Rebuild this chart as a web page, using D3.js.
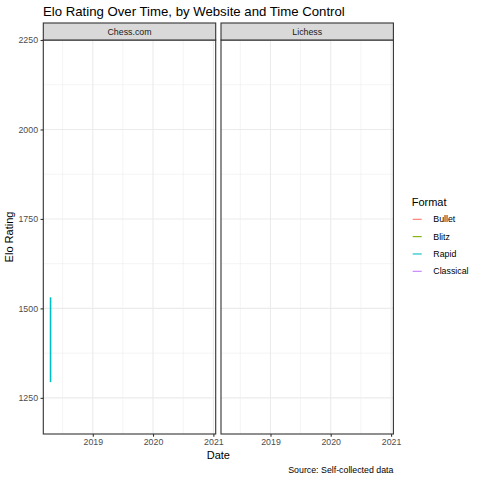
<!DOCTYPE html>
<html>
<head>
<meta charset="utf-8">
<script src="https://cdn.jsdelivr.net/npm/d3@7"></script>
<style>
  body { margin: 0; background: #fff; }
  svg { font-family: "Liberation Sans", Arial, sans-serif; }
</style>
</head>
<body>
<svg id="chart" width="480" height="480"></svg>
<script>
// chart data
const sites = ["Chess.com", "Lichess"];
const formats = ["Bullet", "Blitz", "Rapid", "Classical"];
const formatColors = ["#F8766D", "#7CAE00", "#00BFC4", "#C77CFF"];

// only Chess.com rapid has games in this frame
const chesscomRapidDates = ["2018-04-20", "2018-04-20"];
const chesscomRapidRatings = [1294, 1531];

const dateDomain = ["2018-03-07", "2021-01-15"];
const ratingDomain = [1149, 2250];
const yearTicks = ["2019-01-01", "2020-01-01", "2021-01-01"];
const yearMinorTicks = ["2018-07-02", "2019-07-02", "2020-07-02"];
const ratingTicks = [1250, 1500, 1750, 2000, 2250];
const ratingMinorTicks = [1375, 1625, 1875, 2125];

const title = "Elo Rating Over Time, by Website and Time Control";
const caption = "Source: Self-collected data";

// rows as the plot expects them
const parseDate = d3.utcParse("%Y-%m-%d");
var rows = chesscomRapidDates.map((d, i) => ({
    site: "Chess.com",
    format: "Rapid",
    date: parseDate(d),
    rating: chesscomRapidRatings[i]
}));

var svg = d3.select("#chart");

var panelTop = 40, panelBottom = 434;
var panelLeft = [43.3, 221], panelWidth = 172.4;
var stripHeight = 17;

var y = d3.scaleLinear().domain(ratingDomain).range([panelBottom, panelTop]);
var color = d3.scaleOrdinal().domain(formats).range(formatColors);

sites.forEach((site, si) => {
    var x = d3.scaleUtc()
        .domain(dateDomain.map(parseDate))
        .range([panelLeft[si], panelLeft[si] + panelWidth]);

    var g = svg.append("g");

    // grid
    g.selectAll(".ymin").data(ratingMinorTicks).join("line")
        .attr("x1", x.range()[0]).attr("x2", x.range()[1])
        .attr("y1", d => y(d)).attr("y2", d => y(d))
        .attr("stroke", "#ebebeb").attr("stroke-width", 0.55);
    g.selectAll(".xmin").data(yearMinorTicks).join("line")
        .attr("x1", d => x(parseDate(d))).attr("x2", d => x(parseDate(d)))
        .attr("y1", panelTop).attr("y2", panelBottom)
        .attr("stroke", "#ebebeb").attr("stroke-width", 0.55);
    g.selectAll(".ymaj").data(ratingTicks).join("line")
        .attr("x1", x.range()[0]).attr("x2", x.range()[1])
        .attr("y1", d => y(d)).attr("y2", d => y(d))
        .attr("stroke", "#ebebeb").attr("stroke-width", 1.1);
    g.selectAll(".xmaj").data(yearTicks).join("line")
        .attr("x1", d => x(parseDate(d))).attr("x2", d => x(parseDate(d)))
        .attr("y1", panelTop).attr("y2", panelBottom)
        .attr("stroke", "#ebebeb").attr("stroke-width", 1.1);

    // lines per format
    var line = d3.line().x(d => x(d.date)).y(d => y(d.rating));
    formats.forEach(f => {
        var pts = rows.filter(r => r.site == site && r.format == f);
        if (pts.length == 0) return;
        g.append("path")
            .attr("fill", "none")
            .attr("stroke", color(f))
            .attr("stroke-width", 1.6)
            .attr("d", line(pts));
    });

    // panel border
    g.append("rect")
        .attr("x", x.range()[0]).attr("y", panelTop)
        .attr("width", panelWidth).attr("height", panelBottom - panelTop)
        .attr("fill", "none").attr("stroke", "#333333").attr("stroke-width", 1.1);

    // strip
    g.append("rect")
        .attr("x", x.range()[0]).attr("y", panelTop - stripHeight)
        .attr("width", panelWidth).attr("height", stripHeight)
        .attr("fill", "#d9d9d9").attr("stroke", "#333333").attr("stroke-width", 1.1);
    g.append("text")
        .attr("x", x.range()[0] + panelWidth / 2)
        .attr("y", panelTop - stripHeight / 2)
        .attr("dy", "0.35em")
        .attr("text-anchor", "middle")
        .attr("font-size", 8.8)
        .attr("fill", "#1a1a1a")
        .text(site);

    // x axis
    var xAxis = d3.axisBottom(x)
        .tickValues(yearTicks.map(parseDate))
        .tickFormat(d3.utcFormat("%Y"))
        .tickSize(2.75).tickPadding(2.5);
    g.append("g")
        .attr("transform", `translate(0,${panelBottom})`)
        .call(xAxis)
        .call(a => a.select(".domain").remove())
        .call(a => a.selectAll(".tick line").attr("stroke", "#333333").attr("stroke-width", 1.1))
        .call(a => a.selectAll(".tick text").attr("fill", "#4d4d4d").attr("font-size", 8.8)
            .attr("font-family", "Liberation Sans, Arial, sans-serif"));
});

// y axis, left panel only
var yAxis = d3.axisLeft(y).tickValues(ratingTicks).tickFormat(d3.format("d"))
    .tickSize(2.75).tickPadding(2.5);
svg.append("g")
    .attr("transform", `translate(${panelLeft[0]},0)`)
    .call(yAxis)
    .call(a => a.select(".domain").remove())
    .call(a => a.selectAll(".tick line").attr("stroke", "#333333").attr("stroke-width", 1.1))
    .call(a => a.selectAll(".tick text").attr("fill", "#4d4d4d").attr("font-size", 8.8)
        .attr("font-family", "Liberation Sans, Arial, sans-serif"));

// titles
svg.append("text")
    .attr("x", 43).attr("y", 16)
    .attr("font-size", 13.2).attr("fill", "#000")
    .text(title);

svg.append("text")
    .attr("transform", `translate(13,${(panelTop + panelBottom) / 2}) rotate(-90)`)
    .attr("text-anchor", "middle")
    .attr("font-size", 11).attr("fill", "#000")
    .text("Elo Rating");

svg.append("text")
    .attr("x", (panelLeft[0] + panelLeft[1] + panelWidth) / 2).attr("y", 459)
    .attr("text-anchor", "middle")
    .attr("font-size", 11).attr("fill", "#000")
    .text("Date");

svg.append("text")
    .attr("x", panelLeft[1] + panelWidth).attr("y", 473)
    .attr("text-anchor", "end")
    .attr("font-size", 8.8).attr("fill", "#000")
    .text(caption);

// legend
var legend = svg.append("g").attr("transform", "translate(411.7,0)");
legend.append("text")
    .attr("x", 0).attr("y", 206)
    .attr("font-size", 11).attr("fill", "#000")
    .text("Format");
var legendY = d3.scalePoint().domain(formats).range([219.3, 271.3]);
legend.selectAll(".key").data(formats).join("line")
    .attr("x1", 1).attr("x2", 10)
    .attr("y1", d => legendY(d)).attr("y2", d => legendY(d))
    .attr("stroke", d => color(d)).attr("stroke-width", 1.1);
legend.selectAll(".lab").data(formats).join("text")
    .attr("x", 21.6).attr("y", d => legendY(d))
    .attr("dy", "0.35em")
    .attr("font-size", 8.8).attr("fill", "#000")
    .text(d => d);
</script>
</body>
</html>
